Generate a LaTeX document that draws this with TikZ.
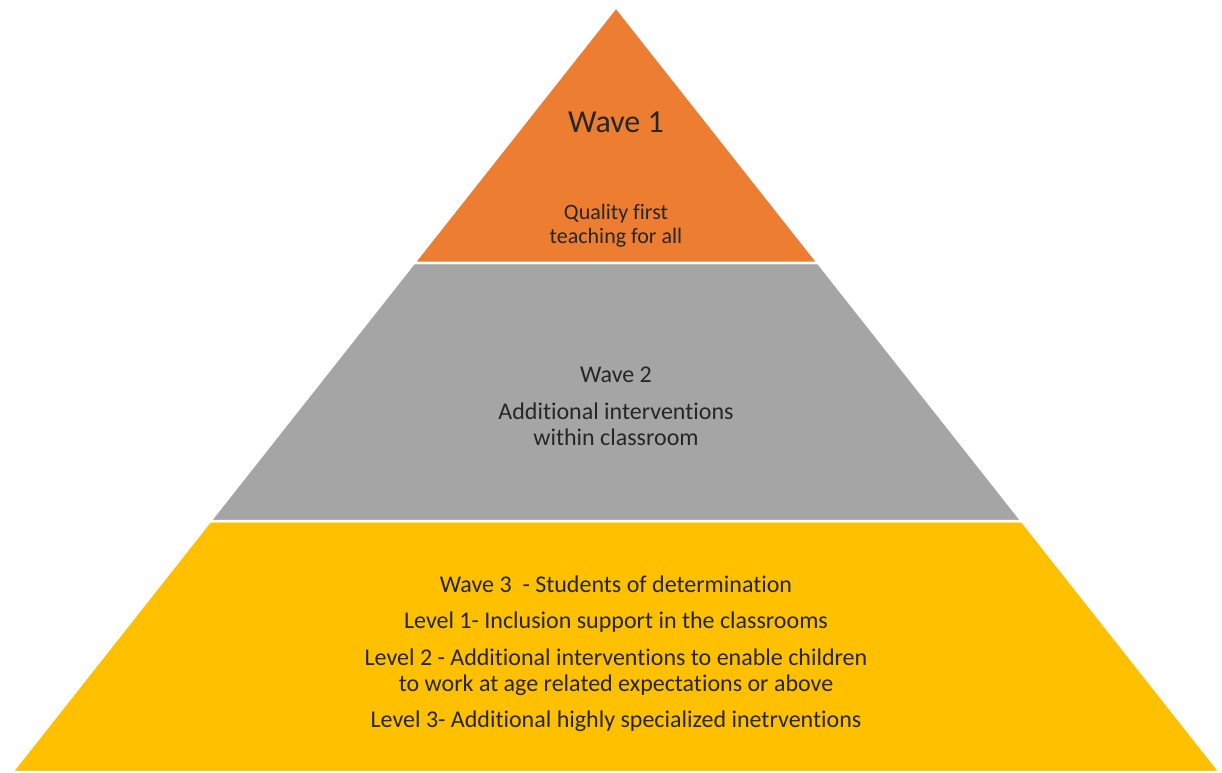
\documentclass[tikz,border=0pt]{standalone}
\usepackage{fontspec}
\setmainfont{Carlito}[Ligatures=NoCommon]
\usetikzlibrary{calc}
\definecolor{waveorange}{HTML}{ED7D31}
\definecolor{wavegrey}{HTML}{A5A5A5}
\definecolor{waveyellow}{HTML}{FFC000}
\tikzset{
    layer/.style={draw=white, line width=2.5pt, line join=miter},
    label/.style={align=center, text=black!85, inner sep=0pt,
        font=\fontsize{24}{26}\selectfont},
}
\begin{document}
\begin{tikzpicture}[x=1pt,y=-1pt]
            \useasboundingbox (0,0) rectangle (1222,772);
            \coordinate (apex) at (616,7);
            \coordinate (bl) at (12,772);
            \coordinate (br) at (1220,772);
            \coordinate (l1) at ($(apex)!0.3346!(bl)$);
            \coordinate (r1) at ($(apex)!0.3346!(br)$);
            \coordinate (l2) at ($(apex)!0.6719!(bl)$);
            \coordinate (r2) at ($(apex)!0.6719!(br)$);

            % three bands
            \filldraw [layer, fill=waveyellow] (l2) -- (r2) -- (br) -- (bl) -- cycle;
            \filldraw [layer, fill=wavegrey] (l1) -- (r1) -- (r2) -- (l2) -- cycle;
            \filldraw [layer, fill=waveorange] (apex) -- (r1) -- (l1) -- cycle;

            \node [label, font=\fontsize{32}{38}\selectfont] (wave1) at (616,122) {Wave 1};
            \node [label, font=\fontsize{22}{24}\selectfont] (quality) at (616,226) {Quality first\\teaching for all};

            \node [label] (wave2) at (616,375) {Wave 2};
            \node [label] (additional) at (616,424) {Additional interventions\\within classroom};

            \node [label] (wave3) at (616,584) {Wave 3\ \ - Students of determination};
            \node [label] (level1) at (616,622) {Level 1- Inclusion support in the classrooms};
            \node [label] (level2) at (616,672) {Level 2 - Additional interventions to enable children\\to work at age related expectations or above};
            \node [label] (level3) at (616,721) {Level 3- Additional highly specialized inetrventions};
\end{tikzpicture}
\end{document}
